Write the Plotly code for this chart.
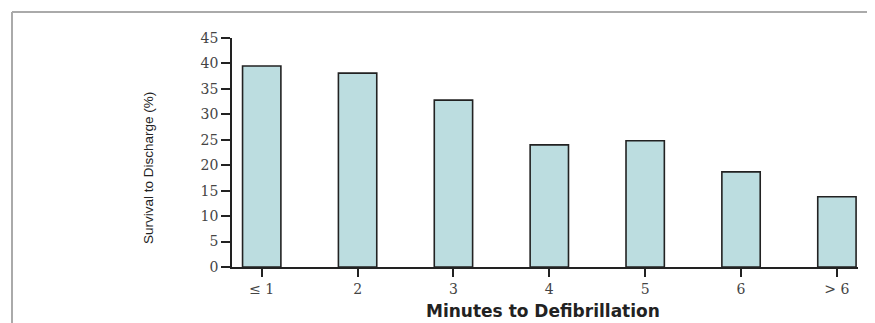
import plotly.graph_objects as go

categories = ["\u2264 1", "2", "3", "4", "5", "6", "> 6"]
survival = [39.5, 38.1, 32.8, 24.0, 24.8, 18.7, 13.8]
y_ticks = [0, 5, 10, 15, 20, 25, 30, 35, 40, 45]

# page body has an 8px margin; figure sized to fit the 875x323 window
OFF = 8
W, H = 875 - OFF, 323 - OFF
# plot area in window pixels: x 232..858, y 38..267
L, R, T, B = 232 - OFF, W - (858 - OFF), 38 - OFF, H - (267 - OFF)
pw, ph = W - L - R, H - T - B

def px(x):
    return (x - OFF - L) / pw

def py(y):
    return (H - B - (y - OFF)) / ph

fig = go.Figure()
fig.add_trace(go.Bar(
    x=list(range(len(categories))),
    y=survival,
    width=0.4,
    marker=dict(color="#bcdde0", line=dict(color="#222222", width=1.6)),
))

fig.update_layout(
    width=W, height=H,
    margin=dict(l=L, r=R, t=T, b=B),
    paper_bgcolor="white", plot_bgcolor="white",
    showlegend=False,
    font=dict(family="DejaVu Serif", color="#333333"),
    xaxis=dict(
        tickmode="array",
        tickvals=list(range(len(categories))),
        ticktext=categories,
        range=[-0.31, 6.22],
        showline=True, linecolor="#222222", linewidth=1.5,
        ticks="outside", ticklen=8, tickcolor="#222222", tickwidth=1.5,
        showgrid=False, zeroline=False,
        tickfont=dict(size=14, family="DejaVu Serif", color="#444444"),
    ),
    yaxis=dict(
        tickmode="array",
        tickvals=y_ticks,
        range=[0, 45],
        showline=True, linecolor="#222222", linewidth=1.5,
        ticks="outside", ticklen=9, tickcolor="#222222", tickwidth=1.5,
        showgrid=False, zeroline=False,
        tickfont=dict(size=14, family="DejaVu Serif", color="#444444"),
    ),
    shapes=[
        dict(type="line", xref="paper", yref="paper",
             x0=px(12), x1=px(880), y0=py(12), y1=py(12),
             line=dict(color="#aaaaaa", width=2)),
        dict(type="line", xref="paper", yref="paper",
             x0=px(12), x1=px(12), y0=py(12), y1=py(330),
             line=dict(color="#aaaaaa", width=2)),
    ],
    annotations=[
        dict(text="Survival to Discharge (%)", xref="paper", yref="paper",
             x=px(148), y=py(168), showarrow=False, textangle=-90,
             xanchor="center", yanchor="middle",
             font=dict(family="Liberation Sans", size=13.5, color="#222222")),
        dict(text="Minutes to Defibrillation", xref="paper", yref="paper",
             x=px(543), y=py(311), showarrow=False,
             xanchor="center", yanchor="middle",
             font=dict(family="DejaVu Sans", size=17, color="#222222", weight="bold")),
    ],
)

fig.write_html("out.html")
